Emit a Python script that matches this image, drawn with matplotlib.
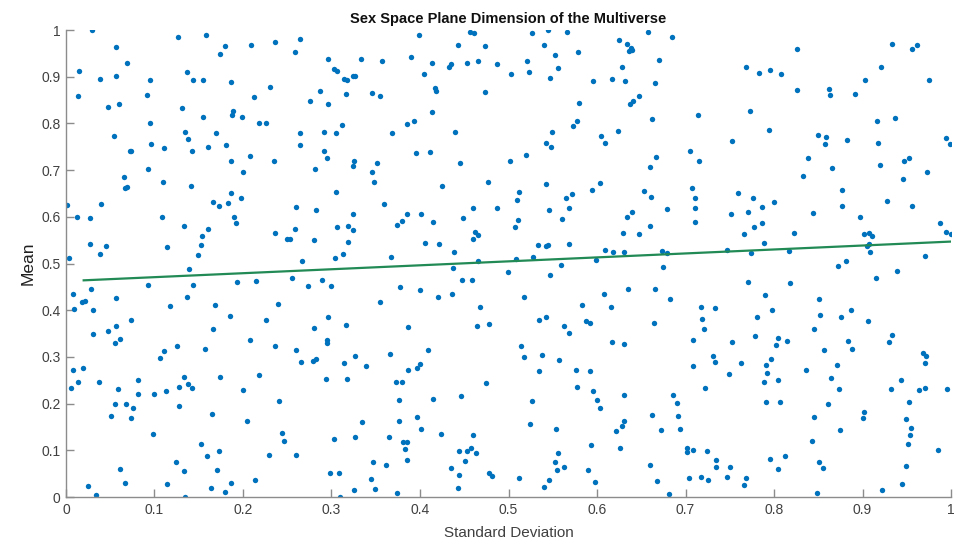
import matplotlib.pyplot as plt

# standard deviation (x) and mean (y) of each sample, read region by region
sd = [
    # top-left
    0.029, 0.127, 0.158, 0.056, 0.180, 0.209, 0.236, 0.174, 0.069, 0.015, 0.137, 0.039, 0.056, 0.095, 0.144, 0.155,
    0.186, 0.230, 0.014, 0.092, 0.212, 0.048, 0.060, 0.131, 0.189, 0.188, 0.155, 0.199, 0.095, 0.218, 0.226, 0.134,
    0.169, 0.054, 0.138, 0.096, 0.181, 0.111, 0.160, 0.072, 0.074, 0.142, 0.208, 0.235, 0.187, 0.093, 0.200, 0.065,
    # top, second quarter
    0.264, 0.259, 0.399, 0.457, 0.461, 0.443, 0.474, 0.296, 0.333, 0.357, 0.390, 0.414, 0.435, 0.433, 0.453, 0.465,
    0.487, 0.303, 0.306, 0.314, 0.317, 0.324, 0.327, 0.404, 0.287, 0.316, 0.346, 0.355, 0.417, 0.418, 0.473, 0.276,
    0.296, 0.414, 0.312, 0.385, 0.393, 0.264, 0.292, 0.305, 0.368, 0.439, 0.264, 0.291, 0.295, 0.395, 0.411, 0.325,
    0.324, 0.351, 0.445, 0.502, 0.281, 0.346,
    # top, third quarter
    0.527, 0.545, 0.566, 0.658, 0.685, 0.540, 0.625, 0.634, 0.638, 0.639, 0.636, 0.553, 0.578, 0.521, 0.670, 0.503,
    0.523, 0.556, 0.628, 0.547, 0.595, 0.617, 0.632, 0.666, 0.647, 0.641, 0.637, 0.580, 0.714, 0.662, 0.577, 0.573,
    0.549, 0.624, 0.604, 0.542, 0.548, 0.609, 0.752, 0.520, 0.705, 0.667, 0.715, 0.660,
    # top-right
    0.933, 0.961, 0.956, 0.826, 0.768, 0.783, 0.795, 0.808, 0.921, 0.903, 0.975, 0.826, 0.862, 0.863, 0.891, 0.773,
    0.916, 0.937, 0.794, 0.850, 0.859, 0.858, 0.882, 0.918, 0.994, 0.999, 0.838, 0.866, 0.920, 0.947, 0.952, 0.833,
    0.946, 0.973,
    # middle-left
    0.110, 0.141, 0.067, 0.069, 0.001, 0.040, 0.166, 0.173, 0.183, 0.187, 0.198, 0.012, 0.027, 0.109, 0.190, 0.192,
    0.133, 0.161, 0.154, 0.236, 0.027, 0.045, 0.038, 0.114, 0.152, 0.149, 0.003, 0.139, 0.093, 0.143, 0.193, 0.215,
    0.028, 0.008, 0.056, 0.137, 0.018, 0.021, 0.009, 0.030, 0.117, 0.168, 0.239, 0.185, 0.074, 0.226, 0.057, 0.166,
    0.031, 0.048, 0.061,
    # middle, second quarter
    0.348, 0.425, 0.477, 0.305, 0.260, 0.283, 0.359, 0.324, 0.385, 0.401, 0.380, 0.374, 0.415, 0.449, 0.460, 0.487,
    0.259, 0.306, 0.319, 0.324, 0.462, 0.465, 0.460, 0.250, 0.253, 0.280, 0.319, 0.406, 0.422, 0.313, 0.304, 0.367,
    0.438, 0.267, 0.466, 0.437, 0.499, 0.255, 0.289, 0.273, 0.300, 0.377, 0.448, 0.459, 0.400, 0.420, 0.436, 0.355,
    0.468, 0.296, 0.280, 0.316, 0.386, 0.464, 0.478,
    # middle, third quarter
    0.542, 0.603, 0.512, 0.510, 0.594, 0.565, 0.572, 0.653, 0.661, 0.707, 0.711, 0.546, 0.568, 0.711, 0.679, 0.640,
    0.634, 0.751, 0.511, 0.507, 0.560, 0.711, 0.660, 0.629, 0.647, 0.533, 0.542, 0.545, 0.568, 0.609, 0.618, 0.631,
    0.673, 0.679, 0.747, 0.509, 0.528, 0.599, 0.559, 0.675, 0.547, 0.635, 0.665, 0.517, 0.608, 0.683, 0.583, 0.616,
    0.717, 0.733, 0.534, 0.542, 0.588, 0.592, 0.719, 0.563, 0.568, 0.664, 0.721,
    # middle-right
    0.759, 0.776, 0.786, 0.771, 0.800, 0.877, 0.877, 0.928, 0.956, 0.844, 0.897, 0.777, 0.786, 0.766, 0.823, 0.902,
    0.907, 0.911, 0.987, 0.994, 1.000, 0.789, 0.907, 0.905, 0.908, 0.774, 0.817, 0.971, 0.881, 0.872, 0.939, 0.915,
    0.771, 0.818, 0.790, 0.851, 0.798, 0.887, 0.781, 0.852, 0.876, 0.906, 0.845, 0.778, 0.933,
    # bottom-left
    0.055, 0.125, 0.157, 0.208, 0.236, 0.111, 0.106, 0.008, 0.019, 0.014, 0.006, 0.037, 0.081, 0.133, 0.174, 0.218,
    0.059, 0.081, 0.099, 0.113, 0.128, 0.138, 0.142, 0.200, 0.055, 0.068, 0.076, 0.128, 0.241, 0.051, 0.074, 0.165,
    0.205, 0.098, 0.244, 0.246, 0.152, 0.159, 0.173, 0.229, 0.124, 0.061, 0.133, 0.171, 0.067, 0.114, 0.186, 0.214,
    0.025, 0.164, 0.034, 0.180, 0.135,
    # bottom, second quarter
    0.295, 0.295, 0.260, 0.266, 0.279, 0.282, 0.314, 0.327, 0.339, 0.366, 0.409, 0.400, 0.397, 0.387, 0.294, 0.318,
    0.373, 0.380, 0.475, 0.376, 0.415, 0.446, 0.334, 0.376, 0.397, 0.401, 0.424, 0.460, 0.303, 0.327, 0.365, 0.381,
    0.385, 0.383, 0.260, 0.444, 0.453, 0.458, 0.463, 0.451, 0.385, 0.347, 0.362, 0.435, 0.298, 0.308, 0.444, 0.478,
    0.481, 0.345, 0.325, 0.349, 0.374, 0.443, 0.310,
    # bottom, third quarter
    0.514, 0.518, 0.538, 0.557, 0.534, 0.576, 0.592, 0.617, 0.630, 0.708, 0.753, 0.731, 0.733, 0.708, 0.749, 0.577,
    0.595, 0.600, 0.603, 0.631, 0.526, 0.722, 0.686, 0.690, 0.691, 0.662, 0.524, 0.554, 0.631, 0.628, 0.621, 0.672,
    0.694, 0.593, 0.626, 0.702, 0.702, 0.708, 0.724, 0.556, 0.553, 0.555, 0.563, 0.590, 0.660, 0.734, 0.734, 0.750,
    0.512, 0.546, 0.540, 0.598, 0.668, 0.704, 0.717, 0.725, 0.747, 0.681,
    # bottom-right
    0.805, 0.815, 0.802, 0.884, 0.930, 0.888, 0.856, 0.968, 0.972, 0.971, 0.763, 0.791, 0.797, 0.792, 0.871, 0.836,
    0.789, 0.804, 0.864, 0.873, 0.944, 0.932, 0.964, 0.971, 0.995, 0.791, 0.807, 0.861, 0.953, 0.902, 0.901, 0.845,
    0.949, 0.955, 0.954, 0.874, 0.843, 0.951, 0.985, 0.812, 0.796, 0.805, 0.851, 0.855, 0.949, 0.768, 0.766, 0.945,
    0.922, 0.849,
]

mu = [
    # top-left
    1.000, 0.984, 0.990, 0.964, 0.965, 0.967, 0.974, 0.949, 0.929, 0.913, 0.910, 0.896, 0.901, 0.892, 0.894, 0.894,
    0.889, 0.878, 0.859, 0.861, 0.857, 0.836, 0.842, 0.832, 0.827, 0.819, 0.814, 0.814, 0.801, 0.801, 0.801, 0.782,
    0.779, 0.772, 0.766, 0.755, 0.754, 0.747, 0.749, 0.741, 0.740, 0.742, 0.730, 0.720, 0.719, 0.703, 0.696, 0.686,
    # top, second quarter
    0.980, 0.954, 0.989, 0.996, 0.994, 0.969, 0.966, 0.937, 0.937, 0.934, 0.943, 0.929, 0.928, 0.921, 0.929, 0.934,
    0.928, 0.916, 0.912, 0.896, 0.894, 0.901, 0.901, 0.905, 0.869, 0.864, 0.865, 0.858, 0.875, 0.870, 0.868, 0.847,
    0.841, 0.825, 0.796, 0.798, 0.806, 0.779, 0.781, 0.779, 0.779, 0.782, 0.753, 0.741, 0.727, 0.737, 0.739, 0.719,
    0.709, 0.716, 0.715, 0.719, 0.703, 0.695,
    # top, third quarter
    0.994, 1.000, 0.995, 0.995, 0.986, 0.969, 0.978, 0.971, 0.961, 0.957, 0.955, 0.946, 0.953, 0.933, 0.936, 0.905,
    0.911, 0.918, 0.921, 0.897, 0.890, 0.895, 0.891, 0.887, 0.859, 0.849, 0.841, 0.844, 0.817, 0.809, 0.806, 0.794,
    0.781, 0.783, 0.774, 0.758, 0.750, 0.759, 0.762, 0.733, 0.742, 0.728, 0.720, 0.707,
    # top-right
    0.971, 0.969, 0.959, 0.959, 0.921, 0.909, 0.914, 0.906, 0.921, 0.894, 0.894, 0.871, 0.874, 0.861, 0.864, 0.827,
    0.806, 0.812, 0.786, 0.775, 0.770, 0.755, 0.764, 0.758, 0.768, 0.757, 0.725, 0.705, 0.710, 0.719, 0.727, 0.687,
    0.682, 0.696,
    # middle-left
    0.674, 0.667, 0.661, 0.663, 0.625, 0.628, 0.632, 0.623, 0.629, 0.650, 0.640, 0.600, 0.597, 0.600, 0.599, 0.586,
    0.580, 0.574, 0.558, 0.566, 0.542, 0.538, 0.521, 0.536, 0.540, 0.518, 0.512, 0.488, 0.454, 0.453, 0.460, 0.462,
    0.445, 0.435, 0.427, 0.429, 0.417, 0.420, 0.403, 0.400, 0.409, 0.411, 0.413, 0.388, 0.380, 0.378, 0.367, 0.360,
    0.348, 0.355, 0.339,
    # middle, second quarter
    0.674, 0.666, 0.675, 0.654, 0.622, 0.615, 0.628, 0.605, 0.605, 0.605, 0.592, 0.582, 0.588, 0.598, 0.618, 0.619,
    0.573, 0.579, 0.580, 0.572, 0.568, 0.560, 0.552, 0.552, 0.552, 0.550, 0.547, 0.544, 0.541, 0.520, 0.511, 0.513,
    0.524, 0.505, 0.505, 0.491, 0.481, 0.470, 0.465, 0.452, 0.451, 0.450, 0.464, 0.464, 0.443, 0.428, 0.435, 0.418,
    0.407, 0.386, 0.361, 0.368, 0.363, 0.366, 0.371,
    # middle, third quarter
    0.670, 0.672, 0.654, 0.635, 0.658, 0.640, 0.649, 0.655, 0.642, 0.662, 0.641, 0.615, 0.618, 0.618, 0.616, 0.610,
    0.600, 0.605, 0.593, 0.579, 0.595, 0.588, 0.580, 0.566, 0.563, 0.539, 0.537, 0.539, 0.541, 0.529, 0.524, 0.525,
    0.527, 0.523, 0.529, 0.510, 0.514, 0.508, 0.496, 0.493, 0.475, 0.445, 0.445, 0.428, 0.434, 0.425, 0.412, 0.406,
    0.407, 0.405, 0.379, 0.386, 0.377, 0.373, 0.381, 0.366, 0.351, 0.372, 0.360,
    # middle-right
    0.650, 0.641, 0.620, 0.611, 0.632, 0.658, 0.624, 0.634, 0.623, 0.608, 0.599, 0.579, 0.587, 0.563, 0.565, 0.563,
    0.566, 0.558, 0.587, 0.567, 0.564, 0.543, 0.542, 0.537, 0.525, 0.522, 0.526, 0.517, 0.505, 0.494, 0.483, 0.470,
    0.461, 0.459, 0.432, 0.424, 0.400, 0.400, 0.385, 0.390, 0.385, 0.376, 0.359, 0.345, 0.347,
    # bottom-left
    0.330, 0.323, 0.318, 0.336, 0.323, 0.313, 0.298, 0.273, 0.276, 0.246, 0.233, 0.247, 0.250, 0.258, 0.256, 0.261,
    0.231, 0.221, 0.221, 0.226, 0.235, 0.242, 0.233, 0.230, 0.200, 0.200, 0.191, 0.194, 0.206, 0.174, 0.170, 0.178,
    0.163, 0.134, 0.138, 0.120, 0.113, 0.087, 0.099, 0.090, 0.075, 0.061, 0.056, 0.058, 0.031, 0.027, 0.029, 0.036,
    0.023, 0.019, 0.005, 0.010, 0.001,
    # bottom, second quarter
    0.336, 0.329, 0.314, 0.289, 0.291, 0.296, 0.287, 0.301, 0.281, 0.306, 0.315, 0.285, 0.276, 0.272, 0.253, 0.252,
    0.247, 0.247, 0.244, 0.208, 0.209, 0.216, 0.161, 0.163, 0.171, 0.145, 0.134, 0.133, 0.125, 0.129, 0.128, 0.118,
    0.117, 0.102, 0.090, 0.098, 0.099, 0.104, 0.095, 0.078, 0.079, 0.076, 0.069, 0.062, 0.051, 0.051, 0.048, 0.052,
    0.044, 0.039, 0.015, 0.018, 0.008, 0.019, 0.001,
    # bottom, third quarter
    0.323, 0.300, 0.304, 0.293, 0.269, 0.273, 0.270, 0.332, 0.328, 0.336, 0.331, 0.301, 0.290, 0.281, 0.263, 0.235,
    0.227, 0.207, 0.191, 0.218, 0.205, 0.233, 0.218, 0.201, 0.174, 0.176, 0.157, 0.146, 0.162, 0.151, 0.141, 0.143,
    0.146, 0.111, 0.106, 0.104, 0.097, 0.100, 0.099, 0.094, 0.074, 0.057, 0.064, 0.058, 0.069, 0.079, 0.064, 0.064,
    0.040, 0.036, 0.021, 0.032, 0.034, 0.040, 0.043, 0.037, 0.042, 0.007,
    # bottom-right
    0.340, 0.334, 0.326, 0.334, 0.333, 0.316, 0.314, 0.308, 0.303, 0.287, 0.286, 0.282, 0.296, 0.266, 0.282, 0.273,
    0.246, 0.251, 0.254, 0.232, 0.250, 0.231, 0.229, 0.234, 0.232, 0.203, 0.203, 0.199, 0.204, 0.181, 0.170, 0.171,
    0.167, 0.147, 0.132, 0.143, 0.121, 0.113, 0.101, 0.088, 0.081, 0.059, 0.075, 0.062, 0.067, 0.040, 0.026, 0.028,
    0.016, 0.009,
]

# least-squares line as drawn in the original (end points)
fit_sd = [0.02, 1.0]
fit_mu = [0.464, 0.547]

ticks = [0, 0.1, 0.2, 0.3, 0.4, 0.5, 0.6, 0.7, 0.8, 0.9, 1]
tick_labels = ["0", "0.1", "0.2", "0.3", "0.4", "0.5", "0.6", "0.7", "0.8", "0.9", "1"]

plt.rcParams["font.family"] = ["Liberation Sans", "DejaVu Sans"]

axis_grey = "#8c8c8c"
text_grey = "#404040"

fig = plt.figure(figsize=(9.59, 5.43), dpi=100)
ax = fig.add_axes([0.0688, 0.0847, 0.9229, 0.8600])

ax.scatter(sd, mu, s=15, color="#0072BD", linewidths=0, zorder=2)
ax.plot(fit_sd, fit_mu, color="#218A55", lw=1.6, zorder=3)

ax.set_xlim(0, 1)
ax.set_ylim(0, 1)
ax.set_xticks(ticks)
ax.set_xticklabels(tick_labels)
ax.set_yticks(ticks)
ax.set_yticklabels(tick_labels)

# MATLAB-like axes: no box, inward ticks
for side in ("top", "right"):
    ax.spines[side].set_visible(False)
for side in ("left", "bottom"):
    ax.spines[side].set_color(axis_grey)
    ax.spines[side].set_linewidth(1.0)
ax.tick_params(direction="in", length=6, width=1.0, color=axis_grey,
               labelcolor=text_grey, labelsize=10)
ax.tick_params(axis="x", pad=4)
ax.tick_params(axis="y", pad=4)

ax.set_xlabel("Standard Deviation", fontsize=11, color=text_grey, labelpad=7)
ax.set_ylabel("Mean", fontsize=12.5, color="#202020", labelpad=4)
ax.set_title("Sex Space Plane Dimension of the Multiverse", fontsize=10.5,
             fontweight="bold", color="#101010", pad=5)

fig.savefig("out.png", dpi=100)
plt.close(fig)
